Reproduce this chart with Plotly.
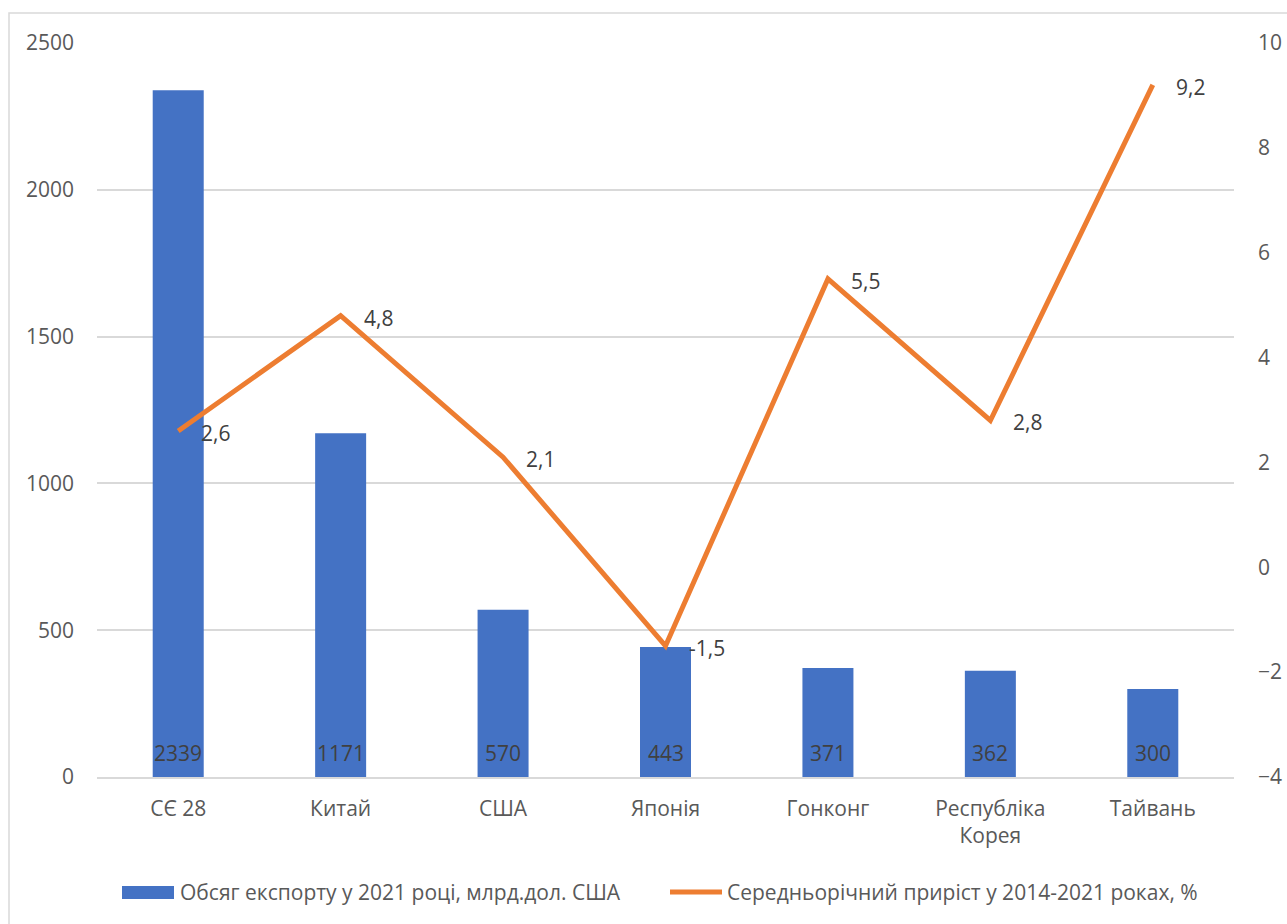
import plotly.graph_objects as go

categories = ["СЄ 28", "Китай", "США", "Японія", "Гонконг", "Республіка<br>Корея", "Тайвань"]
export_2021 = [2339, 1171, 570, 443, 371, 362, 300]
growth = [2.6, 4.8, 2.1, -1.5, 5.5, 2.8, 9.2]
growth_labels = [str(v).replace(".", ",") for v in growth]

bar_name = "Обсяг експорту у 2021 році, млрд.дол. США"
line_name = "Середньорічний приріст у 2014-2021 роках, %"

FONT = "Open Sans, Liberation Sans, sans-serif"
BAR_COLOR = "#4472C4"
LINE_COLOR = "#ED7D31"
W, H = 1287, 924
L, R, T, B = 97, 53, 43, 147
pw = W - L - R
ph = H - T - B


def px_x(x):
    return (x - L) / pw


def px_y(y):
    return (H - B - y) / ph


fig = go.Figure()
fig.add_trace(go.Bar(
    x=categories, y=export_2021, name=bar_name,
    marker=dict(color=BAR_COLOR, line=dict(width=0)),
    showlegend=False,
))
fig.add_trace(go.Scatter(
    x=categories, y=growth, name=line_name, yaxis="y2",
    mode="lines", line=dict(color=LINE_COLOR, width=5),
    showlegend=False, cliponaxis=False,
))

annotations = []
for c, v in zip(categories, export_2021):
    annotations.append(dict(x=c, y=0, xref="x", yref="y", text=str(v), showarrow=False,
                            yanchor="middle", yshift=24,
                            font=dict(color="#404040", size=21, family=FONT)))
for c, v, t in zip(categories, growth, growth_labels):
    annotations.append(dict(x=c, y=v, xref="x", yref="y2", text=t, showarrow=False,
                            xanchor="left", yanchor="middle", xshift=21, yshift=-2,
                            font=dict(color="#404040", size=21, family=FONT)))
# custom legend
annotations.append(dict(x=px_x(178), y=px_y(892), xref="paper", yref="paper", text=bar_name,
                        showarrow=False, xanchor="left", yanchor="middle",
                        font=dict(color="#595959", size=21, family=FONT)))
annotations.append(dict(x=px_x(725), y=px_y(892), xref="paper", yref="paper", text=line_name,
                        showarrow=False, xanchor="left", yanchor="middle",
                        font=dict(color="#595959", size=21, family=FONT)))

shapes = [
    dict(type="rect", xref="paper", yref="paper",
         x0=px_x(9), x1=px_x(W + 20), y0=px_y(H + 20), y1=px_y(13),
         line=dict(color="#D9D9D9", width=1.5), layer="below"),
    dict(type="rect", xref="paper", yref="paper",
         x0=px_x(122), x1=px_x(174), y0=px_y(899), y1=px_y(886),
         fillcolor=BAR_COLOR, line=dict(width=0)),
    dict(type="line", xref="paper", yref="paper",
         x0=px_x(670), x1=px_x(722), y0=px_y(892), y1=px_y(892),
         line=dict(color=LINE_COLOR, width=5)),
]

fig.update_layout(
    width=W, height=H,
    margin=dict(l=L, r=R, t=T, b=B, autoexpand=False),
    paper_bgcolor="white", plot_bgcolor="white",
    font=dict(family=FONT, size=21, color="#595959"),
    bargap=0.686,
    showlegend=False,
    xaxis=dict(showgrid=False, showline=True, linecolor="#D9D9D9", linewidth=1.5,
               ticks="", tickfont=dict(size=21, color="#595959"), ticklabelstandoff=12,
               automargin=False),
    yaxis=dict(range=[0, 2500], dtick=500, showgrid=True, gridcolor="#D9D9D9",
               gridwidth=1.5, zeroline=False, showline=False, ticks="",
               tickfont=dict(size=21, color="#595959"), ticklabelstandoff=22,
               automargin=False),
    yaxis2=dict(range=[-4, 10], dtick=2, overlaying="y", side="right",
                showgrid=False, zeroline=False, showline=False, ticks="",
                tickfont=dict(size=21, color="#595959"), ticklabelstandoff=23,
                automargin=False),
    shapes=shapes,
    annotations=annotations,
)

fig.write_html("out.html", config={"displayModeBar": False},
               post_script="document.body.style.margin='0';")
